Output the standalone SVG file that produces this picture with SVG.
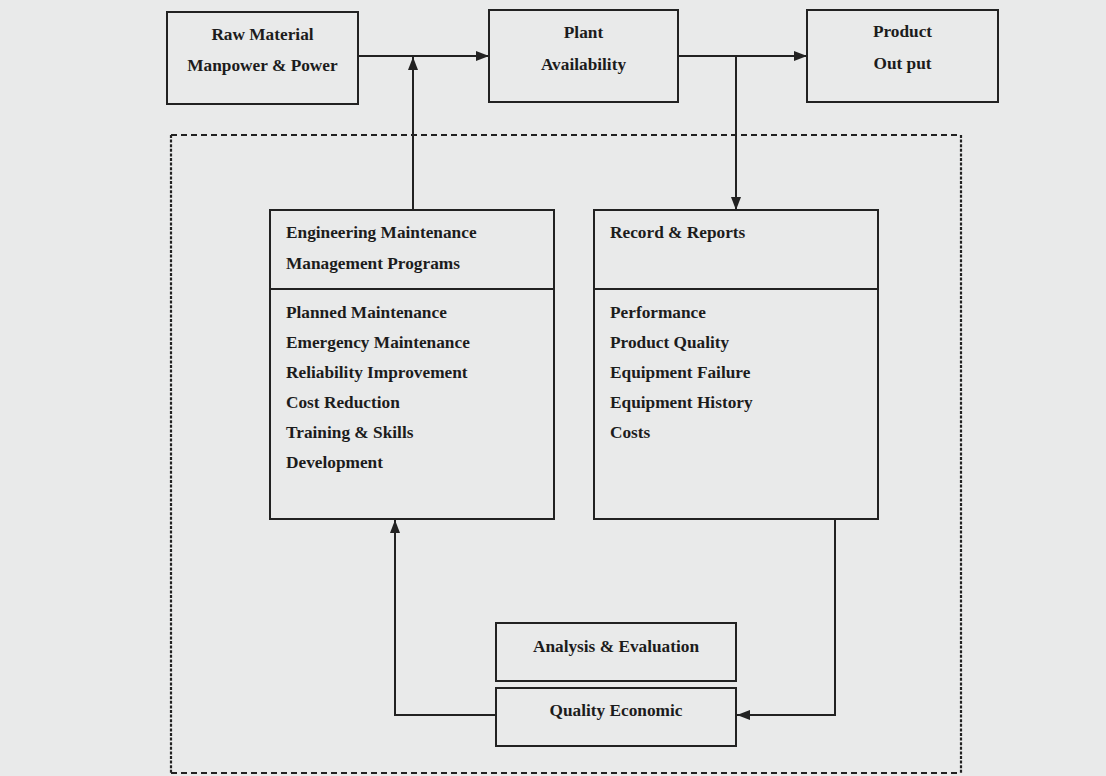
<svg xmlns="http://www.w3.org/2000/svg" width="1106" height="776" viewBox="0 0 1106 776">
  <style>
    .box { fill: none; stroke: #222; stroke-width: 2; }
    .t { font-family: "Liberation Serif", "Times New Roman", serif; font-weight: bold; font-size: 17.3px; fill: #1c1c1c; }
    .c { text-anchor: middle; }
    .conn { fill: none; stroke: #222; stroke-width: 2; }
    .dh { stroke: #222; stroke-width: 2; stroke-dasharray: 6 4; fill: none; }
    .dv { stroke: #222; stroke-width: 2.2; stroke-dasharray: 3 1.6; fill: none; }
  </style>
  <defs>
    <marker id="arr" markerUnits="userSpaceOnUse" markerWidth="13" markerHeight="10" refX="13" refY="5" orient="auto">
      <path d="M0,0 L13,5 L0,10 z" fill="#222"/>
    </marker>
  </defs>
  <rect width="1106" height="776" fill="#e9eaea"/>

  <g id="boundary">
    <line class="dh" x1="171" y1="135" x2="961" y2="135"/>
    <line class="dh" x1="171" y1="773" x2="961" y2="773"/>
    <line class="dv" x1="171" y1="135" x2="171" y2="773"/>
    <line class="dv" x1="961" y1="135" x2="961" y2="773"/>
  </g>

  <g id="connectors">
    <path class="conn" d="M358,56 H489" marker-end="url(#arr)"/>
    <path class="conn" d="M413,210 V57" marker-end="url(#arr)"/>
    <path class="conn" d="M678,56 H807" marker-end="url(#arr)"/>
    <path class="conn" d="M736,56 V210" marker-end="url(#arr)"/>
    <path class="conn" d="M835,519 V715 H737" marker-end="url(#arr)"/>
    <path class="conn" d="M496,715 H395 V520" marker-end="url(#arr)"/>
  </g>

  <g id="raw-material">
    <rect class="box" x="167" y="12" width="191" height="92"/>
    <text class="t c" x="262.5" y="40">Raw Material</text>
    <text class="t c" x="262.5" y="71">Manpower &amp; Power</text>
  </g>

  <g id="plant">
    <rect class="box" x="489" y="10" width="189" height="92"/>
    <text class="t c" x="583.5" y="38">Plant</text>
    <text class="t c" x="583.5" y="70">Availability</text>
  </g>

  <g id="product">
    <rect class="box" x="807" y="10" width="191" height="92"/>
    <text class="t c" x="902.5" y="37">Product</text>
    <text class="t c" x="902.5" y="69">Out put</text>
  </g>

  <g id="engineering">
    <rect class="box" x="270" y="210" width="284" height="309"/>
    <line class="box" x1="270" y1="289" x2="554" y2="289"/>
    <text class="t" x="286" y="238">Engineering Maintenance</text>
    <text class="t" x="286" y="269">Management Programs</text>
    <text class="t" x="286" y="318">Planned Maintenance</text>
    <text class="t" x="286" y="348">Emergency Maintenance</text>
    <text class="t" x="286" y="378">Reliability Improvement</text>
    <text class="t" x="286" y="408">Cost Reduction</text>
    <text class="t" x="286" y="438">Training &amp; Skills</text>
    <text class="t" x="286" y="468">Development</text>
  </g>

  <g id="records">
    <rect class="box" x="594" y="210" width="284" height="309"/>
    <line class="box" x1="594" y1="289" x2="878" y2="289"/>
    <text class="t" x="610" y="238">Record &amp; Reports</text>
    <text class="t" x="610" y="318">Performance</text>
    <text class="t" x="610" y="348">Product Quality</text>
    <text class="t" x="610" y="378">Equipment Failure</text>
    <text class="t" x="610" y="408">Equipment History</text>
    <text class="t" x="610" y="438">Costs</text>
  </g>

  <g id="analysis">
    <rect class="box" x="496" y="623" width="240" height="58"/>
    <text class="t c" x="616" y="652">Analysis &amp; Evaluation</text>
  </g>

  <g id="quality">
    <rect class="box" x="496" y="688" width="240" height="58"/>
    <text class="t c" x="616" y="716">Quality Economic</text>
  </g>
</svg>
